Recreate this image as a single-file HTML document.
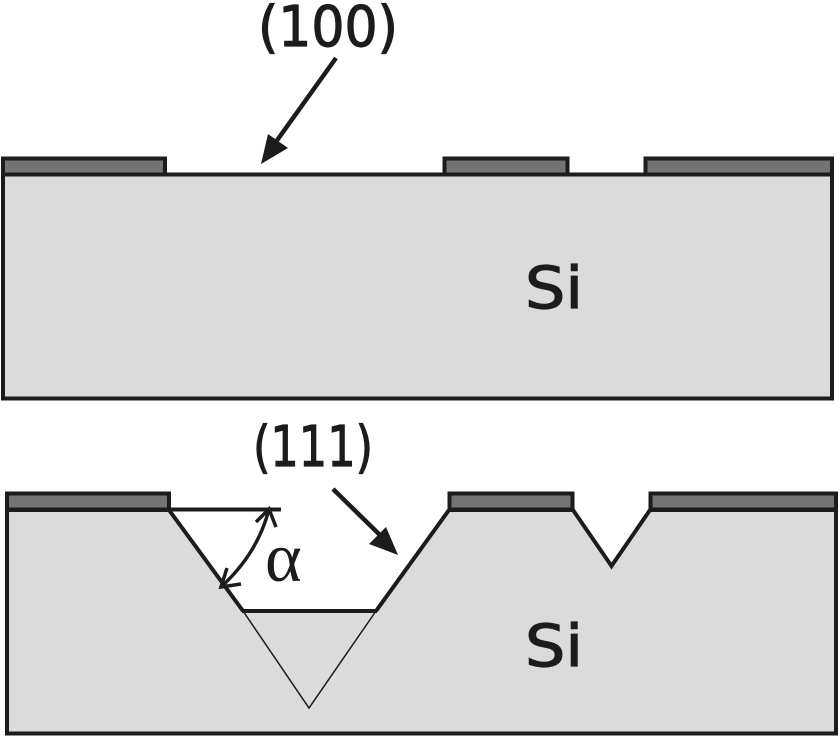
<!DOCTYPE html>
<html>
<head>
<meta charset="utf-8">
<style>
html,body{margin:0;padding:0;background:#fff;width:839px;height:736px;overflow:hidden}
svg{display:block}
text{fill:#1c1c1c;stroke:#1c1c1c;stroke-width:1.2px;font-family:"DejaVu Sans","Liberation Sans",sans-serif}
</style>
</head>
<body>
<svg width="839" height="736" viewBox="0 0 839 736" xmlns="http://www.w3.org/2000/svg">
<rect width="839" height="736" fill="#fff"/>

<!-- top substrate -->
<rect x="3" y="174.500" width="829" height="224" fill="#dbdbdb" stroke="#1c1c1c" stroke-width="4"/>
<g fill="#737373" stroke="#1c1c1c" stroke-width="4">
<rect x="3" y="158.500" width="162" height="16"/>
<rect x="444.500" y="158.500" width="123" height="16"/>
<rect x="645.500" y="158.500" width="186.500" height="16"/>
</g>

<!-- top arrow -->
<line x1="336" y1="58" x2="273" y2="146" stroke="#1c1c1c" stroke-width="4.500"/>
<polygon points="261,164 268,134 288,148" fill="#1c1c1c"/>

<text x="258" y="46" font-size="56" textLength="140" lengthAdjust="spacingAndGlyphs">(100)</text>
<text x="525" y="308" font-size="58" textLength="58" lengthAdjust="spacingAndGlyphs">Si</text>

<!-- bottom substrate -->
<path d="M7,510 L169,510 L243,611 L376,611 L449,510 L573,510 L611.500,566 L650,510 L836,510 L836,733.500 L7,733.500 Z" fill="#dbdbdb"/>
<path d="M243,611 L169,510 L7,510 L7,733.500 L836,733.500 L836,510 L650,510 L611.500,566 L573,510 L449,510 L376,611" fill="none" stroke="#1c1c1c" stroke-width="4" stroke-linejoin="miter"/>
<path d="M243,611 L309,708 L376,611" fill="none" stroke="#1c1c1c" stroke-width="1.500"/>
<line x1="242" y1="611" x2="377" y2="611" stroke="#1c1c1c" stroke-width="4"/>
<line x1="169" y1="509.500" x2="281" y2="509.500" stroke="#1c1c1c" stroke-width="4"/>
<g fill="#737373" stroke="#1c1c1c" stroke-width="4">
<rect x="7" y="493.500" width="162" height="16"/>
<rect x="449.500" y="493.500" width="123" height="16"/>
<rect x="650.500" y="493.500" width="185.500" height="16"/>
</g>

<!-- angle arc -->
<path d="M269,509 Q258,553 221,587" fill="none" stroke="#1c1c1c" stroke-width="3.500"/>
<path d="M256,522 L269,509 L276,527 M227,568 L221,587 L241,584" fill="none" stroke="#1c1c1c" stroke-width="3.500"/>

<text x="265" y="581" font-size="70" style="font-family:'Liberation Serif',serif;stroke-width:0">α</text>

<!-- bottom arrow -->
<line x1="333" y1="489" x2="385" y2="540" stroke="#1c1c1c" stroke-width="4.500"/>
<polygon points="398,555 369,544 386,527" fill="#1c1c1c"/>

<text x="253" y="466" font-size="56" textLength="120" lengthAdjust="spacingAndGlyphs">(111)</text>
<text x="525" y="666" font-size="58" textLength="58" lengthAdjust="spacingAndGlyphs">Si</text>
</svg>
</body>
</html>
